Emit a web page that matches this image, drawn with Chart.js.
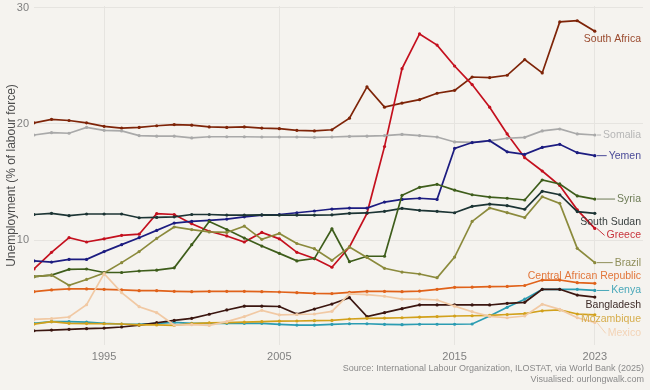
<!DOCTYPE html>
<html><head><meta charset="utf-8">
<script src="https://cdn.jsdelivr.net/npm/chart.js@4/dist/chart.umd.min.js"></script>
<style>html,body{margin:0;padding:0;background:#f5f3ef;}#wrap{width:650px;height:390px;}</style>
</head><body><div id="wrap"><canvas id="c" width="650" height="390"></canvas></div>
<script>
const years = [1991,1992,1993,1994,1995,1996,1997,1998,1999,2000,2001,2002,2003,2004,2005,2006,2007,2008,2009,2010,2011,2012,2013,2014,2015,2016,2017,2018,2019,2020,2021,2022,2023];
const xTickYears = [1995, 2005, 2015, 2023];
const yTickValues = [10, 20, 30];

const southAfrica = [20.1,20.4,20.3,20.1,19.8,19.65,19.7,19.85,19.95,19.9,19.75,19.7,19.75,19.65,19.6,19.45,19.4,19.5,20.5,23.2,21.45,21.8,22.1,22.65,22.9,24.05,24.0,24.2,25.55,24.4,28.8,28.9,28.0];
const somalia = [19.05,19.25,19.2,19.7,19.45,19.4,19.0,18.95,18.95,18.8,18.9,18.9,18.9,18.88,18.88,18.88,18.85,18.88,18.93,18.95,19.0,19.1,19.0,18.88,18.45,18.42,18.55,18.77,18.85,19.4,19.57,19.14,19.05];
const yemen = [8.2,8.1,8.33,8.33,9.0,9.6,10.2,10.83,11.46,11.6,11.7,11.8,12.0,12.15,12.2,12.35,12.5,12.67,12.75,12.75,13.27,13.5,13.6,13.5,17.9,18.4,18.56,17.6,17.38,17.98,18.25,17.53,17.27];
const syria = [6.84,6.98,7.47,7.5,7.2,7.2,7.33,7.4,7.6,9.6,11.6,10.9,10.17,9.48,8.85,8.2,8.4,10.97,8.13,8.6,8.6,13.85,14.54,14.8,14.3,13.9,13.7,13.6,13.45,15.17,14.83,13.8,13.53];
const southSudan = [12.2,12.3,12.1,12.24,12.24,12.24,11.92,11.95,12.0,12.2,12.2,12.15,12.15,12.17,12.15,12.15,12.15,12.17,12.3,12.33,12.47,12.73,12.56,12.47,12.35,12.9,13.1,12.96,12.65,14.2,13.9,12.45,12.3];
const greece = [7.5,8.94,10.2,9.83,10.1,10.4,10.5,12.27,12.2,11.4,10.75,10.35,9.83,10.65,10.1,8.94,8.4,7.65,9.4,12.3,18.05,24.77,27.76,26.8,25.0,23.4,21.45,19.14,17.1,15.95,14.7,12.6,11.0];
const brazil = [6.84,6.98,6.1,6.6,7.15,8.05,9.0,10.14,11.12,10.9,10.7,10.65,11.2,10.06,10.57,9.7,9.25,8.25,9.4,8.5,7.56,7.24,7.07,6.75,8.53,11.6,12.76,12.36,11.93,13.73,13.16,9.28,8.05];
const centralAfricanRepublic = [5.55,5.7,5.78,5.78,5.75,5.7,5.63,5.63,5.58,5.55,5.57,5.58,5.58,5.55,5.52,5.46,5.4,5.38,5.49,5.58,5.57,5.55,5.6,5.75,5.92,5.93,5.98,6.0,6.08,6.55,6.55,6.32,6.27];
const kenya = [2.82,2.96,2.96,2.93,2.82,2.76,2.74,2.82,2.9,2.82,2.82,2.82,2.82,2.82,2.73,2.67,2.67,2.73,2.78,2.78,2.73,2.7,2.74,2.74,2.74,2.76,3.45,4.2,4.9,5.75,5.75,5.75,5.65];
const bangladesh = [2.18,2.24,2.3,2.36,2.41,2.5,2.67,2.87,3.07,3.25,3.6,3.97,4.3,4.3,4.27,3.62,4.05,4.48,5.03,3.4,3.74,4.08,4.4,4.4,4.4,4.4,4.4,4.54,4.63,5.75,5.75,5.25,5.08];
const mozambique = [2.75,2.96,2.82,2.8,2.78,2.76,2.68,2.68,2.65,2.8,2.85,2.88,2.92,2.96,3.0,3.02,3.05,3.07,3.19,3.25,3.27,3.3,3.36,3.4,3.45,3.47,3.5,3.58,3.65,3.9,3.97,3.62,3.55];
const mexico = [3.16,3.22,3.36,4.42,7.1,5.46,4.25,3.74,2.67,2.7,2.64,2.96,3.4,3.94,3.55,3.58,3.62,3.85,5.35,5.3,5.15,4.9,4.9,4.83,4.3,3.82,3.42,3.3,3.45,4.46,4.02,3.3,2.9];

const countries = ['Mexico','Mozambique','Bangladesh','Kenya','Central African Republic','Brazil','Syria','South Sudan','Yemen','Somalia','Greece','South Africa'];
const seriesValues = [mexico, mozambique, bangladesh, kenya, centralAfricanRepublic, brazil, syria, southSudan, yemen, somalia, greece, southAfrica];

const lineColors = {
  'South Africa':'#7e2408','Somalia':'#a9a9a9','Yemen':'#1c1c80','Syria':'#3e5d1b','South Sudan':'#1c3434',
  'Greece':'#c4101e','Brazil':'#8b8a3c','Central African Republic':'#e0621a','Kenya':'#2b9cb2',
  'Bangladesh':'#3b1610','Mozambique':'#d2a11c','Mexico':'#f1c9a4'
};
const labelColors = {
  'South Africa':'#9a4a2e','Somalia':'#b6b6b6','Yemen':'#4a4a98','Syria':'#6d7b55','South Sudan':'#383f3f',
  'Greece':'#c8343c','Brazil':'#8f8e5a','Central African Republic':'#e2763a','Kenya':'#49a8b9',
  'Bangladesh':'#3e2c28','Mozambique':'#d6ad4c','Mexico':'#f3d3b6'
};
const labelNudge = {
  'South Africa':8,'Somalia':0,'Yemen':0,'Syria':0,'South Sudan':9,'Greece':7,'Brazil':0,
  'Central African Republic':-7,'Kenya':0,'Bangladesh':8,'Mozambique':4,'Mexico':11
};

const FONT = "'Liberation Sans', Arial, sans-serif";

const datasets = countries.map((name, i) => ({
  label: name,
  data: years.map((yr, j) => ({x: yr, y: seriesValues[i][j]})),
  borderColor: lineColors[name],
  backgroundColor: lineColors[name],
  pointBackgroundColor: lineColors[name],
  pointBorderWidth: 0,
  pointRadius: 1.6,
  borderWidth: 1.7,
  tension: 0,
  fill: false
}));

const bgPlugin = {
  id: 'bg',
  beforeDraw(chart) {
    const ctx = chart.ctx;
    ctx.save();
    ctx.fillStyle = '#f5f3ef';
    ctx.fillRect(0, 0, chart.width, chart.height);
    ctx.restore();
  }
};

const labelPlugin = {
  id: 'endLabels',
  afterDatasetsDraw(chart) {
    const ctx = chart.ctx;
    ctx.save();
    ctx.font = '10.5px ' + FONT;
    ctx.textAlign = 'right';
    ctx.textBaseline = 'middle';
    const rightX = 641;
    chart.data.datasets.forEach((ds, i) => {
      const meta = chart.getDatasetMeta(i);
      const pt = meta.data[meta.data.length - 1];
      const name = ds.label;
      const ly = pt.y + labelNudge[name];
      const w = ctx.measureText(name).width;
      const left = rightX - w;
      if (left > pt.x + 6) {
        ctx.strokeStyle = labelColors[name];
        ctx.lineWidth = 1;
        ctx.beginPath();
        ctx.moveTo(pt.x + 2, pt.y);
        ctx.lineTo(left - 2, ly);
        ctx.stroke();
      }
      ctx.fillStyle = labelColors[name];
      ctx.fillText(name, rightX, ly);
    });
    ctx.restore();
  }
};

const captionPlugin = {
  id: 'caption',
  afterDraw(chart) {
    const ctx = chart.ctx;
    ctx.save();
    ctx.font = '9px ' + FONT;
    ctx.fillStyle = '#8a8a8a';
    ctx.textAlign = 'right';
    ctx.textBaseline = 'middle';
    ctx.fillText('Source: International Labour Organization, ILOSTAT, via World Bank (2025)', 644, 369);
    ctx.fillText('Visualised: ourlongwalk.com', 644, 380);
    ctx.restore();
  }
};

new Chart(document.getElementById('c'), {
  type: 'line',
  data: { datasets },
  options: {
    responsive: false,
    animation: false,
    devicePixelRatio: 1,
    layout: { padding: { left: 0, right: 7, top: 6, bottom: 23 } },
    plugins: { legend: { display: false }, tooltip: { enabled: false } },
    scales: {
      x: {
        type: 'linear',
        min: 1991,
        max: 2025.75,
        afterBuildTicks: s => { s.ticks = xTickYears.map(v => ({ value: v })); },
        afterFit: s => { s.height = 22; s.paddingLeft = 0; s.paddingRight = 0; },
        ticks: { color: '#808080', font: { family: FONT, size: 11 }, padding: 5, maxRotation: 0, autoSkip: false, callback: v => String(v) },
        grid: { color: '#e6e4e0', lineWidth: 1, drawTicks: false },
        border: { display: false }
      },
      y: {
        type: 'linear',
        min: 0.95,
        max: 30.17,
        afterBuildTicks: s => { s.ticks = yTickValues.map(v => ({ value: v })); },
        afterFit: s => { s.width = 34; s.paddingTop = 0; s.paddingBottom = 0; },
        ticks: { color: '#808080', font: { family: FONT, size: 11 }, padding: 5, callback: v => String(v) },
        grid: { color: '#e6e4e0', lineWidth: 1, drawTicks: false },
        border: { display: false },
        title: { display: true, text: 'Unemployment (% of labour force)', color: '#4d4d4d', font: { family: FONT, size: 12 }, padding: { top: 4, bottom: 0 } }
      }
    }
  },
  plugins: [bgPlugin, labelPlugin, captionPlugin]
});
</script>
</body></html>
